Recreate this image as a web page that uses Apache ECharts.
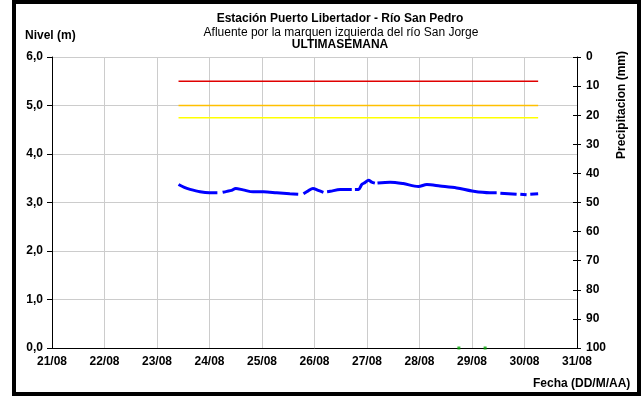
<!DOCTYPE html>
<html>
<head>
<meta charset="utf-8">
<script src="https://cdn.jsdelivr.net/npm/echarts@6/dist/echarts.min.js"></script>
<style>
html,body{margin:0;padding:0;background:#fff;}
#c{width:644px;height:397px;}
</style>
</head>
<body>
<div id="c"></div>
<script>
// Day offsets since 21/08 00:00 and level (m); null = gap in record
var levelTimes = [2.41,2.52,2.63,2.82,3.00,3.15,3.20,3.25,3.33,3.42,3.50,3.64,3.83,4.03,4.28,4.53,4.69,4.73,4.79,4.88,4.97,5.07,5.17,5.20,5.24,5.30,5.49,5.71,5.74,5.77,5.84,5.90,5.96,6.03,6.09,6.15,6.17,6.20,6.44,6.69,6.98,7.14,7.39,7.71,8.03,8.34,8.47,8.50,8.54,8.85,8.88,8.92,9.04,9.07,9.11,9.26];
var levelValues = [3.37,3.31,3.27,3.22,3.20,3.20,null,3.21,3.23,3.25,3.29,3.26,3.22,3.22,3.20,3.18,3.17,null,3.18,3.24,3.29,3.25,3.21,null,3.22,3.23,3.27,3.27,null,3.27,3.27,3.37,3.41,3.46,3.42,3.40,null,3.40,3.42,3.39,3.33,3.37,3.34,3.30,3.23,3.20,3.20,null,3.19,3.17,null,3.17,3.16,null,3.17,3.18];
// Alert thresholds (m)
var thresholdNames = ['Alerta roja','Alerta naranja','Alerta amarilla'];
var thresholdValues = [5.5, 5.0, 4.75];
var thresholdColors = ['#E00000','#FFC000','#FFFF00'];
var thresholdSpan = [2.41, 9.26];
// Precipitation marks
var precipTimes = [7.75, 8.25];
var precipValues = [0, 0];
// Axis tick labels
var dateLabels = ['21/08','22/08','23/08','24/08','25/08','26/08','27/08','28/08','29/08','30/08','31/08'];

var FONT = 'Liberation Sans, Arial, sans-serif';
var NARROW = 'Liberation Sans Narrow, Liberation Sans, Arial, sans-serif';

var series = [];
thresholdValues.forEach(function(v, i){
  series.push({
    name: thresholdNames[i], type: 'line', xAxisIndex: 0, yAxisIndex: 0,
    data: [[thresholdSpan[0], v],[thresholdSpan[1], v]],
    symbol: 'none', silent: true,
    lineStyle: {color: thresholdColors[i], width: 1.5}
  });
});
series.push({
  name: 'Nivel', type: 'line', yAxisIndex: 0,
  data: levelTimes.map(function(t, i){ return [t, levelValues[i]]; }),
  symbol: 'none', connectNulls: false, smooth: 0.3,
  lineStyle: {color: '#0000FF', width: 3}
});
series.push({
  name: 'Precipitación', type: 'scatter', yAxisIndex: 0,
  data: precipTimes.map(function(t, i){ return [t, precipValues[i]]; }),
  symbol: 'rect', symbolSize: 3,
  itemStyle: {color: '#00A000'}
});

var chart = echarts.init(document.getElementById('c'), null, {renderer: 'canvas'});
chart.setOption({
  animation: false,
  backgroundColor: '#fff',
  title: [
    {text: 'Estación Puerto Libertador - Río San Pedro', left: 335, top: 8, textAlign: 'center',
     textStyle: {fontFamily: NARROW, fontSize: 12, fontWeight: 'bold', color: '#000'}},
    {text: 'Afluente por la marquen izquierda del río San Jorge', left: 336, top: 22, textAlign: 'center',
     textStyle: {fontFamily: NARROW, fontSize: 12, fontWeight: 'normal', color: '#000'}},
    {text: 'ULTIMASEMANA', left: 335, top: 34, textAlign: 'center',
     textStyle: {fontFamily: NARROW, fontSize: 12, fontWeight: 'bold', color: '#000'}},
    {text: 'Nivel (m)', left: 20, top: 25,
     textStyle: {fontFamily: NARROW, fontSize: 12, fontWeight: 'bold', color: '#000'}},
    {text: 'Fecha (DD/M/AA)', left: 528, top: 373,
     textStyle: {fontFamily: NARROW, fontSize: 12, fontWeight: 'bold', color: '#000'}}
  ],
  graphic: [
    {type: 'rect', shape: {x: 14, y: 2, width: 625, height: 392}, style: {fill: 'none', stroke: '#000', lineWidth: 4}, silent: true},
    {type: 'text', x: 622, y: 105, rotation: Math.PI/2, style: {text: 'Precipitacion (mm)', fill: '#000',
      font: 'bold 12px ' + NARROW, textAlign: 'center', textVerticalAlign: 'middle'}}
  ],
  grid: {left: 52, right: 67, top: 57, bottom: 49, containLabel: false},
  xAxis: {
    type: 'value', min: 0, max: 10, interval: 1,
    axisLine: {onZero: false, lineStyle: {color: '#000', width: 1}},
    axisTick: {show: false},
    axisLabel: {margin: 8, fontFamily: FONT, fontSize: 12, fontWeight: 'bold', color: '#000',
      formatter: function(v){ return dateLabels[Math.round(v)] || ''; }},
    splitLine: {show: true, lineStyle: {color: '#CCCCCC', width: 1}}
  },
  yAxis: [
    {type: 'value', min: 0, max: 6, interval: 1, position: 'left',
     axisLine: {show: true, lineStyle: {color: '#000'}},
     axisTick: {show: true, length: 5, lineStyle: {color: '#000'}},
     axisLabel: {margin: 9, fontFamily: FONT, fontSize: 12, fontWeight: 'bold', color: '#000',
       formatter: function(v){ return v.toFixed(1).replace('.', ','); }},
     splitLine: {show: true, lineStyle: {color: '#CCCCCC', width: 1}}},
    {type: 'value', min: 0, max: 100, interval: 10, position: 'right', inverse: true,
     axisLine: {show: true, lineStyle: {color: '#000'}},
     axisTick: {show: true, length: 4, lineStyle: {color: '#000'}},
     axisLabel: {margin: 9, fontFamily: FONT, fontSize: 12, fontWeight: 'bold', color: '#000'},
     splitLine: {show: false}},
    {type: 'value', min: 0, max: 100, interval: 10, position: 'right', inverse: true,
     axisLine: {show: false},
     axisTick: {show: true, inside: true, length: 4, lineStyle: {color: '#000'}},
     axisLabel: {show: false},
     splitLine: {show: false}}
  ],
  series: series
});
</script>
</body>
</html>
